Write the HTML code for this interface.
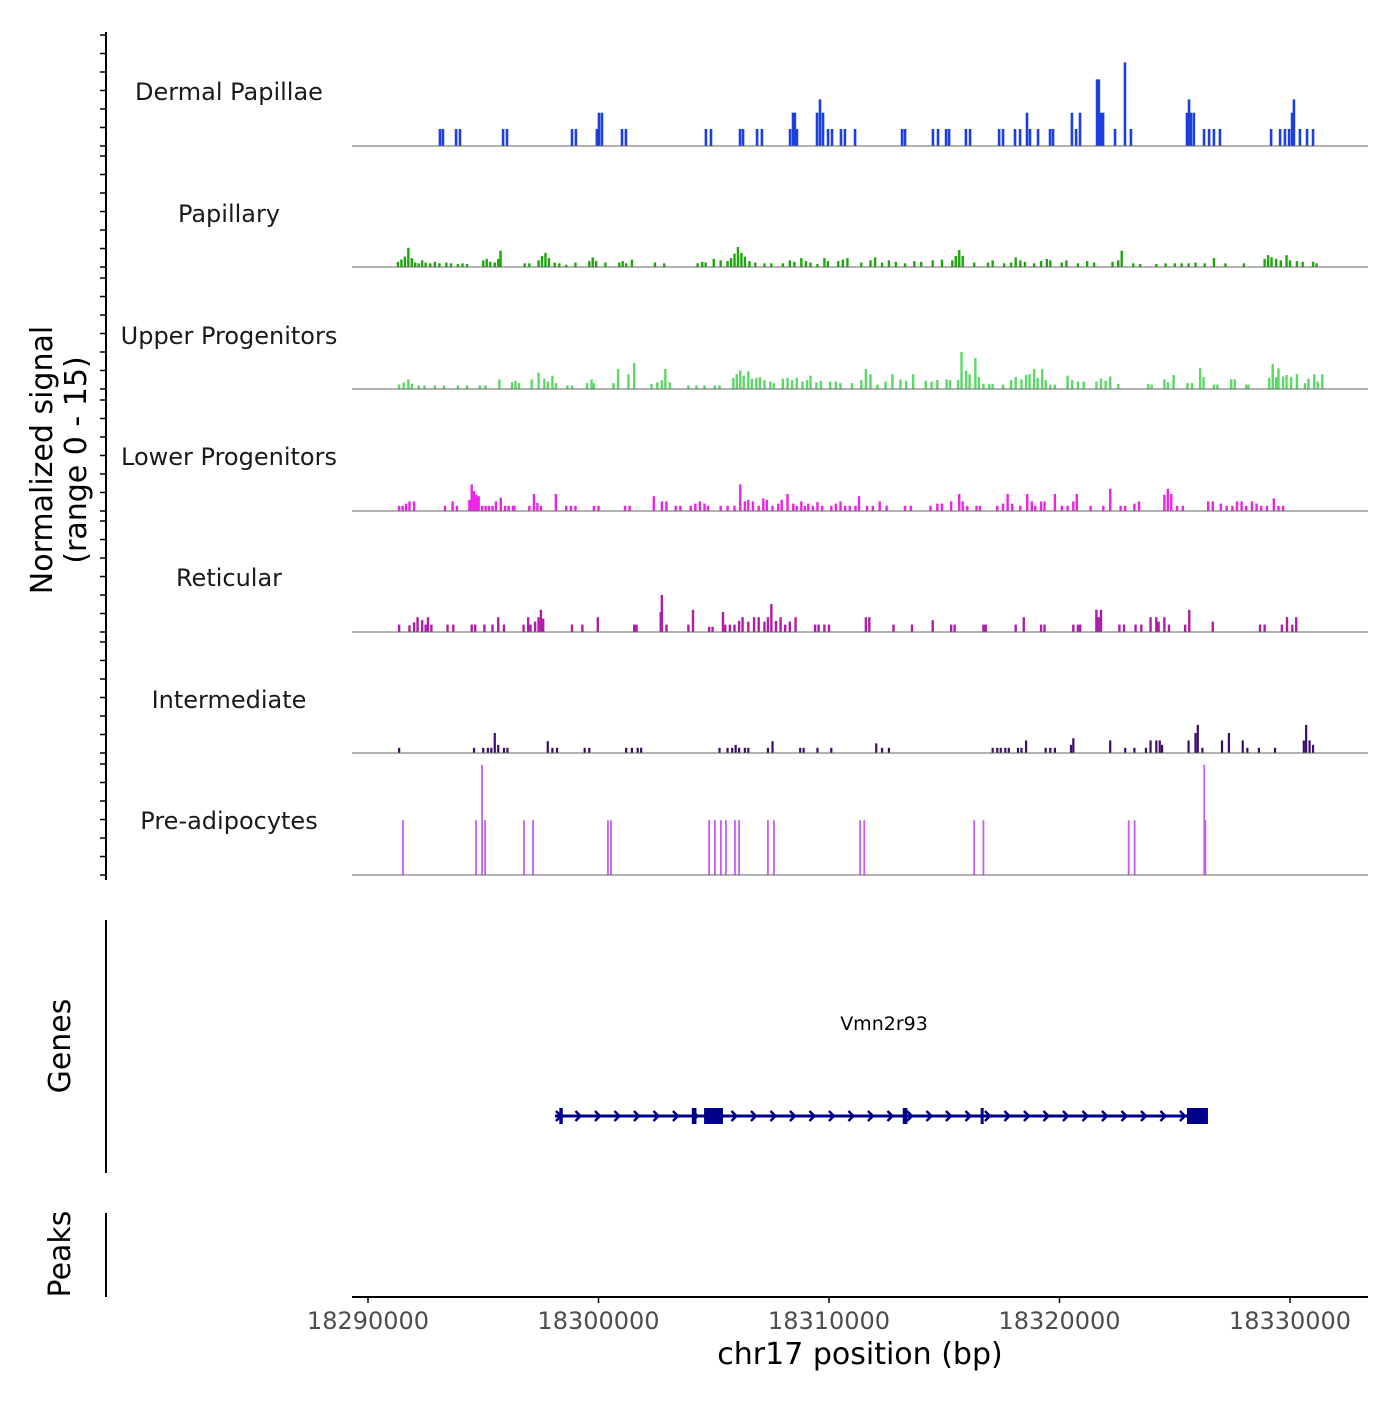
<!DOCTYPE html>
<html><head><meta charset="utf-8"><style>
html,body{margin:0;padding:0;background:#fff}
svg text{font-family:"DejaVu Sans","Liberation Sans",sans-serif}
</style></head><body>
<svg id="chart" width="1400" height="1400" xmlns="http://www.w3.org/2000/svg">
<g id="axes"></g><g id="tracks"></g><g id="gene"></g>
</svg>
<script>
// positions in kb offset from chr17:18,290,000 ; values are normalized signal (0-15)
const tickLabels=["18290000","18300000","18310000","18320000","18330000"];
const tickKb=[0,10,20,30,40];
const trackNames=["Dermal Papillae","Papillary","Upper Progenitors","Lower Progenitors","Reticular","Intermediate","Pre-adipocytes"];
const dermalPapillae=[[3.12,2.3],[3.25,2.3],[3.82,2.3],[3.99,2.3],[5.86,2.3],[6.03,2.3],[8.85,2.3],[9.02,2.3],[9.93,2.3],[10.02,4.5],[10.15,4.5],[11.02,2.3],[11.19,2.3],[14.66,2.3],[14.88,2.3],[16.14,2.3],[16.27,2.3],[16.88,2.3],[17.09,2.3],[18.31,2.3],[18.44,4.5],[18.52,4.5],[18.61,2.3],[19.48,4.5],[19.61,6.3],[19.74,4.5],[19.96,2.3],[20.13,2.3],[20.52,2.3],[20.69,2.3],[21.13,2.3],[23.17,2.3],[23.30,2.3],[24.51,2.3],[24.73,2.3],[25.08,2.3],[25.21,2.3],[25.94,2.3],[26.12,2.3],[27.38,2.3],[27.55,2.3],[28.07,2.3],[28.29,2.3],[28.59,4.5],[28.72,2.3],[29.07,2.3],[29.59,2.3],[29.72,2.3],[30.54,4.5],[30.72,2.3],[30.89,4.5],[31.63,9],[31.71,9],[31.80,4.5],[31.89,4.5],[32.41,2.3],[32.84,11.3],[33.10,2.3],[35.53,4.5],[35.62,6.3],[35.70,4.5],[35.83,4.5],[36.27,2.3],[36.49,2.3],[36.70,2.3],[36.96,2.3],[39.18,2.3],[39.57,2.3],[39.78,2.3],[39.96,2.3],[40.09,4.5],[40.17,6.3],[40.43,2.3],[40.74,2.3],[41.0,2.3]];
const papillary=[[1.3,.7],[1.45,1],[1.6,1.4],[1.75,2.6],[1.9,1.2],[2.05,.6],[2.2,.5],[2.35,.9],[2.5,.6],[2.7,.5],[2.9,.7],[3.1,.5],[3.4,.6],[3.6,.5],[3.9,.4],[4.1,.5],[4.3,.4],[5.0,.9],[5.15,1.1],[5.3,.7],[5.5,.6],[5.65,1.1],[5.75,2.2],[6.8,.5],[7.0,.5],[7.4,.9],[7.55,1.5],[7.7,1.9],[7.85,1.2],[8.1,.6],[8.3,.5],[8.6,.3],[9.0,.6],[9.6,.8],[9.75,1.3],[9.9,.8],[10.3,.6],[10.9,.6],[11.05,.8],[11.2,.5],[11.45,1.0],[12.45,.6],[12.85,.5],[14.3,.5],[14.5,.7],[14.65,.6],[15.0,1.1],[15.3,.9],[15.6,.8],[15.75,1.2],[15.9,1.8],[16.05,2.7],[16.2,1.9],[16.35,1.4],[16.55,.8],[16.8,.6],[17.2,.5],[17.5,.5],[18.0,.5],[18.3,.9],[18.5,.7],[18.8,1.2],[19.0,.8],[19.2,.6],[19.5,.4],[19.8,1.2],[19.95,.8],[20.4,.8],[20.6,1.0],[20.8,1.2],[21.4,.6],[21.8,.9],[22.0,1.3],[22.3,.6],[22.6,.9],[22.9,.7],[23.3,.5],[23.7,.8],[24.0,.7],[24.5,.9],[24.9,1.0],[25.35,.9],[25.5,1.5],[25.65,2.3],[25.8,1.5],[26.3,.6],[26.9,.6],[27.1,.9],[27.6,.5],[27.9,.6],[28.1,1.3],[28.3,.9],[28.5,.7],[28.9,.5],[29.2,.8],[29.45,1.1],[29.6,.9],[30.1,.6],[30.3,.9],[30.8,.5],[31.2,.8],[31.5,.6],[32.3,.7],[32.55,.9],[32.7,2.2],[33.2,.5],[33.5,.4],[34.2,.4],[34.6,.5],[35.0,.5],[35.3,.5],[35.6,.5],[35.9,.6],[36.3,.5],[36.7,1.2],[37.2,.5],[38.0,.5],[38.9,1.1],[39.05,1.6],[39.2,1.3],[39.4,1.1],[39.6,.9],[39.85,1.6],[40.0,.9],[40.3,.8],[40.55,.7],[41.0,.7],[41.15,.5]];
const upperProgenitors=[[1.35,.6],[1.55,.9],[1.75,1.3],[1.9,.7],[2.2,.5],[2.45,.5],[2.9,.5],[3.3,.5],[3.9,.5],[4.3,.5],[4.85,.5],[5.1,.5],[5.7,1.3],[6.25,.9],[6.4,1.1],[6.55,.8],[7.1,1.3],[7.4,2.2],[7.65,1.4],[7.8,1.0],[8.0,1.8],[8.15,.8],[8.65,.5],[8.85,.5],[9.5,.8],[9.7,1.3],[9.8,.8],[10.65,.8],[10.85,2.7],[11.3,2.0],[11.55,3.5],[12.3,.7],[12.55,.9],[12.75,1.2],[12.9,2.7],[13.1,.9],[13.9,.5],[14.25,.5],[14.6,.5],[15.05,.5],[15.25,.5],[15.85,1.5],[16.0,2.0],[16.15,2.5],[16.3,1.8],[16.5,2.4],[16.65,1.4],[16.85,1.5],[17.0,1.6],[17.2,1.2],[17.45,1.0],[17.6,.8],[18.0,1.4],[18.2,1.5],[18.4,1.2],[18.6,1.5],[18.85,1.0],[19.05,1.2],[19.2,1.8],[19.45,.9],[19.65,1.1],[20.05,1.0],[20.3,1.0],[20.5,.8],[21.0,.8],[21.4,1.2],[21.6,2.7],[21.8,2.0],[22.1,.6],[22.45,1.0],[22.75,2.0],[23.1,1.3],[23.35,1.1],[23.65,2.0],[24.2,1.1],[24.45,1.0],[24.7,1.2],[25.1,1.3],[25.25,1.2],[25.6,1.2],[25.75,5.0],[25.95,2.5],[26.1,2.0],[26.35,4.2],[26.5,1.6],[26.7,.7],[26.95,.7],[27.1,.7],[27.55,.6],[27.9,1.2],[28.1,1.6],[28.35,1.3],[28.55,1.9],[28.7,2.0],[28.9,2.7],[29.05,1.5],[29.25,2.7],[29.4,1.2],[29.6,.6],[29.8,.6],[30.35,1.8],[30.55,1.2],[30.8,1.0],[31.05,1.0],[31.6,1.0],[31.8,1.4],[32.0,1.1],[32.2,1.7],[32.55,.7],[33.85,.7],[34.0,.6],[34.55,1.3],[34.7,.9],[34.95,1.9],[35.55,.8],[35.75,.8],[36.1,2.8],[36.25,1.6],[36.7,.6],[36.85,.6],[37.45,1.3],[37.6,1.3],[38.1,.6],[38.2,.6],[39.1,1.5],[39.25,3.4],[39.4,1.6],[39.5,2.8],[39.7,1.7],[39.85,1.9],[40.05,1.6],[40.3,2.0],[40.65,.8],[40.8,1.4],[41.05,2.0],[41.2,1.0],[41.4,2.0]];
const lowerProgenitors=[[1.35,.7],[1.5,.7],[1.65,1.0],[1.8,1.3],[2.0,1.3],[3.34,.7],[3.67,1.3],[3.86,.7],[4.4,1.5],[4.5,3.6],[4.6,2.7],[4.7,2.2],[4.8,2.0],[4.95,.7],[5.1,.7],[5.25,.7],[5.4,.7],[5.55,1.3],[5.76,1.8],[5.95,.7],[6.1,.7],[6.3,.7],[6.35,.7],[6.33,.7],[7.0,.7],[7.2,2.3],[7.35,1.1],[7.5,.7],[8.15,2.3],[8.6,.7],[8.8,.7],[9.0,.7],[9.8,.7],[10.0,.7],[11.15,.7],[11.35,.7],[12.4,2.0],[12.75,1.3],[12.95,1.3],[13.35,.7],[13.55,.7],[14.0,.7],[14.2,1.0],[14.4,1.3],[14.6,1.0],[14.75,.7],[15.3,.7],[15.6,.7],[15.9,.7],[16.15,3.6],[16.35,1.3],[16.5,1.5],[16.7,1.3],[16.95,.7],[17.15,1.7],[17.3,1.5],[17.55,.7],[17.8,1.0],[17.95,1.5],[18.2,2.3],[18.45,1.0],[18.6,.7],[18.8,1.3],[18.95,.7],[19.1,1.0],[19.3,.7],[19.5,1.2],[19.7,.7],[20.1,.7],[20.3,1.0],[20.5,1.3],[20.7,.7],[20.9,.7],[21.15,.7],[21.3,2.0],[21.65,.7],[21.9,.7],[22.2,1.3],[22.5,.7],[23.3,.7],[23.55,.7],[24.4,.7],[24.7,1.0],[24.9,1.0],[25.3,1.3],[25.65,2.3],[25.8,1.3],[26.0,.7],[26.4,.7],[26.55,.7],[27.3,.7],[27.55,1.0],[27.75,2.3],[27.95,1.0],[28.3,.7],[28.6,2.3],[28.8,1.3],[28.95,.7],[29.2,1.3],[29.35,1.3],[29.8,2.3],[30.1,.7],[30.35,.7],[30.6,1.3],[30.75,2.3],[31.35,.7],[31.9,.7],[32.2,3.0],[32.65,.7],[32.85,.7],[33.25,1.0],[33.45,1.3],[34.55,2.2],[34.7,3.0],[34.85,2.3],[35.1,.7],[35.35,.7],[36.45,1.3],[36.65,1.3],[37.0,1.0],[37.25,.7],[37.5,.7],[37.7,1.3],[37.9,1.3],[38.1,.7],[38.35,1.3],[38.55,1.0],[38.75,.7],[39.0,.7],[39.3,1.7],[39.5,.7],[39.7,.7]];
const reticular=[[1.35,1],[1.8,.9],[2.0,1.3],[2.15,2.0],[2.35,1.6],[2.5,1.0],[2.6,2.0],[2.75,1.0],[3.45,1.0],[3.7,1.0],[4.5,1.0],[4.65,1.0],[5.05,1.0],[5.4,1.0],[5.65,2.0],[5.9,1.0],[6.75,1.0],[6.95,2.0],[7.05,1.0],[7.25,1.4],[7.4,2.0],[7.5,3.0],[7.6,1.8],[8.85,1.0],[9.3,1.0],[9.97,2.0],[11.55,1.0],[11.65,1.0],[12.7,2.7],[12.75,5.0],[12.95,1.0],[13.9,1.0],[14.1,3.0],[14.8,.7],[14.95,.7],[15.4,2.7],[15.5,1.0],[15.7,1.0],[15.9,1.0],[16.1,1.5],[16.25,2.0],[16.5,1.4],[16.75,2.0],[16.95,2.0],[17.2,1.4],[17.35,2.0],[17.5,3.8],[17.7,1.5],[17.9,2.0],[18.1,1.0],[18.3,1.4],[18.55,2.0],[19.4,1.0],[19.55,1.0],[19.8,1.0],[20.0,1.0],[21.6,2.0],[21.75,2.0],[22.8,1.0],[23.6,1.0],[24.5,1.6],[25.3,1.0],[25.45,1.0],[26.7,1.0],[26.8,1.0],[28.1,1.0],[28.45,2.0],[29.2,1.0],[29.35,1.0],[30.6,1.0],[30.8,1.0],[30.9,1.0],[31.6,3.0],[31.7,2.0],[31.8,3.0],[32.6,1.0],[32.8,1.0],[33.3,1.0],[33.55,1.0],[33.95,2.0],[34.2,2.0],[34.3,1.4],[34.55,2.0],[34.75,1.0],[35.45,1.0],[35.63,3.0],[36.65,1.4],[38.7,1.0],[38.9,1.0],[39.65,1.0],[39.87,2.0],[40.1,1.0],[40.27,2.0]];
const intermediate=[[1.35,.7],[4.6,.7],[5.0,.7],[5.2,.7],[5.35,.7],[5.5,2.7],[5.65,1.1],[5.9,.7],[6.05,.7],[7.8,1.6],[8.0,.7],[8.2,.7],[9.4,.7],[9.6,.7],[11.2,.7],[11.45,.7],[11.7,.7],[11.85,.7],[15.25,.7],[15.6,.7],[15.8,.7],[15.95,1.1],[16.1,.7],[16.35,.7],[16.5,.7],[17.35,.7],[17.55,1.6],[18.75,.7],[18.9,.7],[19.5,.7],[20.1,.7],[22.05,1.3],[22.3,.7],[22.6,.7],[27.1,.7],[27.3,.7],[27.45,.7],[27.65,.7],[27.8,.7],[28.2,.7],[28.35,.7],[28.55,1.7],[29.4,.7],[29.6,.7],[29.8,.7],[30.5,1.1],[30.6,2.0],[32.2,1.7],[32.85,.7],[33.25,.7],[33.75,.7],[33.95,1.7],[34.2,1.7],[34.35,1.7],[34.45,1.1],[35.6,1.7],[35.9,2.7],[36.0,3.8],[36.2,.7],[37.05,1.7],[37.35,2.7],[37.95,1.7],[38.15,.7],[38.65,.7],[39.35,.7],[40.6,1.7],[40.7,3.8],[40.85,1.7],[41.0,1.1]];
const preAdipocytes=[[1.52,7.4],[4.69,7.4],[4.95,14.9],[5.08,7.4],[6.77,7.4],[7.16,7.4],[10.41,7.4],[10.54,7.4],[14.8,7.4],[15.05,7.4],[15.31,7.4],[15.53,7.4],[15.92,7.4],[16.1,7.4],[17.35,7.4],[17.61,7.4],[21.35,7.4],[21.53,7.4],[26.3,7.4],[26.7,7.4],[33.0,7.4],[33.26,7.4],[36.28,14.9],[36.33,7.4]];
const geneStartKb=8.11, geneEndKb=36.44;
const geneExons=[[8.3,8.45],[14.05,14.25],[14.58,15.4],[23.2,23.4],[26.58,26.68],[35.53,36.44]];

const NS="http://www.w3.org/2000/svg";
const X0=368, PXKB=23.05, VPX=7.4;
const xs=kb=>X0+kb*PXKB;
const baselines=[146,267,389,511,632,753,875];
const labelY=[92,214,336,457,578,700,821];
const colors=["#1c3fde","#1aa80a","#5ad966","#ef22e6","#b01ca8","#3d0c6a","#c55cf6"];
const widths=[2.6,2.4,2.4,2.4,2.4,2.2,1.8];
const series=[dermalPapillae,papillary,upperProgenitors,lowerProgenitors,reticular,intermediate,preAdipocytes];
function mk(tag,attrs,parent){const e=document.createElementNS(NS,tag);for(const k in attrs)e.setAttribute(k,attrs[k]);parent.appendChild(e);return e;}
const ax=document.getElementById('axes'), tr=document.getElementById('tracks'), gg=document.getElementById('gene');

let yl=mk('line',{x1:106,y1:32,x2:106,y2:880,stroke:'#000','stroke-width':2},ax);


baselines.forEach(b=>{for(let k=0;k<=6;k++){const t=mk('line',{x1:100,x2:106,y1:b-111+k*18.5,y2:b-111+k*18.5,stroke:'#000','stroke-width':1.5},ax);

}});
let yt=mk('text',{x:0,y:0,'font-size':30,'text-anchor':'middle',fill:'#000',transform:'translate(52,460) rotate(-90)'},ax);


mk('tspan',{x:0,dy:0},yt).textContent='Normalized signal';
mk('tspan',{x:0,dy:34},yt).textContent='(range 0 - 15)';
let ga=mk('line',{x1:106,y1:920,x2:106,y2:1173,stroke:'#000','stroke-width':2},ax);


let gt=mk('text',{x:0,y:0,'font-size':30,'text-anchor':'middle',transform:'translate(70,1046) rotate(-90)'},ax);
gt.textContent='Genes';


let pa=mk('line',{x1:106,y1:1213,x2:106,y2:1297,stroke:'#000','stroke-width':2},ax);


let pt=mk('text',{x:0,y:0,'font-size':30,'text-anchor':'middle',transform:'translate(70,1254) rotate(-90)'},ax);
pt.textContent='Peaks';


let xa=mk('line',{x1:352,y1:1297,x2:1368,y2:1297,stroke:'#000','stroke-width':2},ax);


tickKb.forEach((kb,i)=>{const t=mk('line',{x1:xs(kb),x2:xs(kb),y1:1297,y2:1303,stroke:'#000','stroke-width':1.5},ax);


const l=mk('text',{x:xs(kb),y:1329,'font-size':24,'text-anchor':'middle',fill:'#4d4d4d'},ax);l.textContent=tickLabels[i];

});
let xt=mk('text',{x:860,y:1364,'font-size':30,'text-anchor':'middle',fill:'#000'},ax);xt.textContent='chr17 position (bp)';



series.forEach((data,i)=>{const b=baselines[i];
const g=mk('g',{},tr);


const lb=mk('text',{x:229,y:labelY[i]+8,'font-size':24,'text-anchor':'middle',fill:'#1a1a1a'},g);lb.textContent=trackNames[i];


data.forEach(d=>{const h=d[1]*VPX;const r=mk('rect',{x:xs(d[0])-widths[i]/2,y:b-h,width:widths[i],height:h,fill:colors[i]},g);

});
const bl=mk('line',{x1:352,x2:1368,y1:b,y2:b,stroke:'#666','stroke-width':1},g);

});

const gy=1116;
let gl=mk('line',{x1:xs(geneStartKb),x2:xs(geneEndKb),y1:gy,y2:gy,stroke:'#00008B','stroke-width':3},gg);


for(let x=xs(geneStartKb)+4;x<xs(geneEndKb)-6;x+=19.5){const c=mk('polyline',{points:`${x-3},${gy-5} ${x+2},${gy} ${x-3},${gy+5}`,fill:'none',stroke:'#00008B','stroke-width':2.5},gg);

}
geneExons.forEach(e=>{const w=Math.max(xs(e[1])-xs(e[0]),3);const r=mk('rect',{x:xs(e[0]),y:gy-8,width:w,height:16,fill:'#00008B'},gg);

});
let gn=mk('text',{x:884,y:1030,'font-size':19,'text-anchor':'middle',fill:'#000'},gg);gn.textContent='Vmn2r93';


</script>
</body></html>
